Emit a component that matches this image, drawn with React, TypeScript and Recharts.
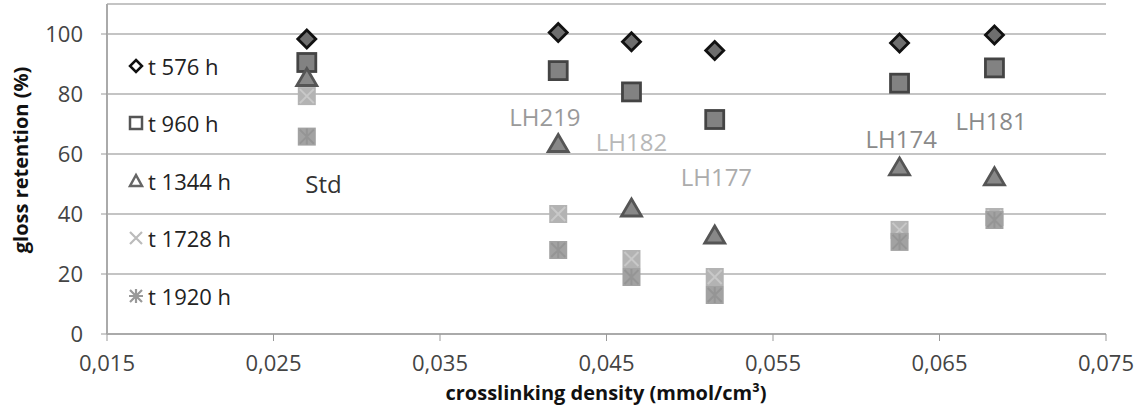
import { ScatterChart, Scatter, XAxis, YAxis, CartesianGrid, ReferenceDot, Label } from "recharts";

if (typeof document !== "undefined") document.body.style.margin = "0";

const FONT = "'Open Sans', 'Liberation Sans', sans-serif";

// crosslinking density (mmol/cm3) per sample
const samples = ["Std", "LH219", "LH182", "LH177", "LH174", "LH181"];
const density = [0.027, 0.0421, 0.0465, 0.0515, 0.0626, 0.0683];

// gloss retention (%) per exposure time
const t576 = [98.3, 100.5, 97.4, 94.5, 97, 99.7];
const t960 = [90.5, 87.8, 80.7, 71.5, 83.6, 88.7];
const t1344 = [85.5, 63.5, 42, 33, 55.7, 52.4];
const t1728 = [79.3, 40, 25, 19, 34.7, 39];
const t1920 = [65.8, 28, 19, 13, 30.7, 38];

// sample name annotations
const labelX = [0.028, 0.0413, 0.0465, 0.0516, 0.0627, 0.0681];
const labelY = [50, 72.3, 63.7, 52.3, 64.7, 70.7];
const labelColor = ["#333", "#9a9a9a", "#b8b8b8", "#acacac", "#8a8a8a", "#8a8a8a"];

const xTicks = [0.015, 0.025, 0.035, 0.045, 0.055, 0.065, 0.075];
const yTicks = [0, 20, 40, 60, 80, 100];

const series = [
  { name: "t 576 h", values: t576, kind: "diamond" },
  { name: "t 960 h", values: t960, kind: "square" },
  { name: "t 1344 h", values: t1344, kind: "triangle" },
  { name: "t 1728 h", values: t1728, kind: "cross" },
  { name: "t 1920 h", values: t1920, kind: "star" },
];

const toPoints = (vals: number[]) => density.map((x, i) => ({ x, y: vals[i] }));

function Marker({ cx, cy, kind }: { cx: number; cy: number; kind: string }) {
  if (kind === "diamond") {
    const r = 9;
    return (
      <polygon
        points={`${cx},${cy - r} ${cx + r},${cy} ${cx},${cy + r} ${cx - r},${cy}`}
        fill="#6e6e6e"
        stroke="#111"
        strokeWidth={2.8}
      />
    );
  }
  if (kind === "square") {
    return <rect x={cx - 9} y={cy - 9} width={18} height={18} fill="#828282" stroke="#444" strokeWidth={2.8} />;
  }
  if (kind === "triangle") {
    return (
      <polygon
        points={`${cx},${cy - 9} ${cx + 10},${cy + 8} ${cx - 10},${cy + 8}`}
        fill="#888"
        stroke="#555"
        strokeWidth={2.8}
      />
    );
  }
  if (kind === "cross") {
    return (
      <g>
        <rect x={cx - 9} y={cy - 9} width={18} height={18} fill="#b3b3b3" />
        <path d={`M${cx - 7},${cy - 7}L${cx + 7},${cy + 7}M${cx + 7},${cy - 7}L${cx - 7},${cy + 7}`} stroke="#c8c8c8" strokeWidth={2} />
      </g>
    );
  }
  return (
    <g>
      <rect x={cx - 9} y={cy - 9} width={18} height={18} fill="#a2a2a2" />
      <path
        d={`M${cx - 7},${cy - 7}L${cx + 7},${cy + 7}M${cx + 7},${cy - 7}L${cx - 7},${cy + 7}M${cx},${cy - 8}L${cx},${cy + 8}`}
        stroke="#959595"
        strokeWidth={2}
      />
    </g>
  );
}

function LegendIcon({ kind }: { kind: string }) {
  return (
    <svg width={18} height={18} style={{ marginRight: 3 }}>
      {kind === "diamond" && <polygon points="9,3 15,9 9,15 3,9" fill="#fff" stroke="#111" strokeWidth={2.5} />}
      {kind === "square" && <rect x={3} y={3} width={12} height={12} fill="#fff" stroke="#555" strokeWidth={2.5} />}
      {kind === "triangle" && <polygon points="9,3 15,14 3,14" fill="#fff" stroke="#666" strokeWidth={2.5} />}
      {kind === "cross" && <path d="M3,3L15,15M15,3L3,15" stroke="#bbb" strokeWidth={2.2} />}
      {kind === "star" && <path d="M3,3L15,15M15,3L3,15M9,2L9,16M2,9L16,9" stroke="#999" strokeWidth={2.2} />}
    </svg>
  );
}

function LegendBox() {
  return (
    <div style={{ position: "absolute", left: 127, top: 37, fontFamily: FONT, fontSize: 22, color: "#222" }}>
      {series.map((s) => (
        <div key={s.name} style={{ height: 57.5, display: "flex", alignItems: "center" }}>
          <LegendIcon kind={s.kind} />
          <span>{s.name}</span>
        </div>
      ))}
    </div>
  );
}

export default function App() {
  return (
    <div style={{ position: "relative", width: 1137, height: 407 }}>
      <ScatterChart width={1137} height={407} margin={{ top: 4, right: 31, bottom: 0, left: 0 }}>
        <CartesianGrid vertical={false} stroke="#c4c4c4" strokeWidth={2} />
        <XAxis
          type="number"
          dataKey="x"
          domain={[0.015, 0.075]}
          ticks={xTicks}
          tickFormatter={(v: number) => v.toFixed(3).replace(".", ",")}
          tick={{ fontSize: 22, fill: "#444", fontFamily: FONT }}
          axisLine={{ stroke: "#aaa", strokeWidth: 2 }}
          tickLine={{ stroke: "#999" }}
          tickSize={7}
          tickMargin={14}
          height={73}
          allowDataOverflow
        >
          <Label
            content={() => (
              <text x={606} y={400} textAnchor="middle" fontFamily={FONT} fontWeight="bold" fontSize={20} fill="#111">
                crosslinking density (mmol/cm³)
              </text>
            )}
          />
        </XAxis>
        <YAxis
          type="number"
          dataKey="y"
          domain={[0, 110]}
          ticks={yTicks}
          tick={{ fontSize: 22, fill: "#444", fontFamily: FONT }}
          axisLine={{ stroke: "#aaa", strokeWidth: 2 }}
          tickLine={{ stroke: "#999" }}
          tickSize={6}
          tickMargin={18}
          width={107}
          allowDataOverflow
        >
          <Label
            content={() => (
              <text
                x={28}
                y={160}
                transform="rotate(-90, 28, 160)"
                textAnchor="middle"
                fontFamily={FONT}
                fontWeight="bold"
                fontSize={20}
                fill="#111"
              >
                gloss retention (%)
              </text>
            )}
          />
        </YAxis>
        {series.map((s) => (
          <Scatter
            key={s.name}
            name={s.name}
            data={toPoints(s.values)}
            isAnimationActive={false}
            shape={(p: any) => <Marker cx={p.cx} cy={p.cy} kind={s.kind} />}
          />
        ))}
        {samples.map((name, i) => (
          <ReferenceDot
            key={name}
            x={labelX[i]}
            y={labelY[i]}
            r={0}
            fill="none"
            stroke="none"
            label={{ value: name, position: "center", fontSize: 24, fill: labelColor[i], fontFamily: FONT }}
          />
        ))}
      </ScatterChart>
      <LegendBox />
    </div>
  );
}
